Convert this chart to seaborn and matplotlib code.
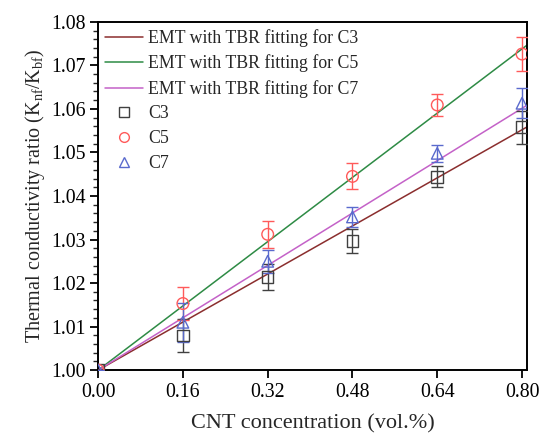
import numpy as np
import pandas as pd
import matplotlib
matplotlib.use("Agg")
import matplotlib.pyplot as plt
import seaborn as sns

# ---- data ----
conc = [0.00, 0.16, 0.32, 0.48, 0.64, 0.80]
c3 = [1.000, 1.0080, 1.0214, 1.0296, 1.0444, 1.0558]
c3_err = [0.0, 0.0038, 0.0030, 0.0028, 0.0024, 0.0038]
c5 = [1.000, 1.0153, 1.0312, 1.0445, 1.0609, 1.0726]
c5_err = [0.0, 0.0038, 0.0031, 0.0030, 0.0025, 0.0038]
c7 = [1.000, 1.0110, 1.0250, 1.0352, 1.0498, 1.0613]
c7_err = [0.0, 0.0045, 0.0027, 0.0023, 0.0020, 0.0035]

fit_x = [0.00, 0.81]
fit_c3 = [1.000, 1.0559]
fit_c5 = [1.000, 1.0747]
fit_c7 = [1.000, 1.0609]

xticks = [0.00, 0.16, 0.32, 0.48, 0.64, 0.80]
yticks = [1.00, 1.01, 1.02, 1.03, 1.04, 1.05, 1.06, 1.07, 1.08]

sns.set_theme(style="ticks")
plt.rcParams['font.family'] = ['Liberation Serif', 'DejaVu Serif']
plt.rcParams['mathtext.fontset'] = 'custom'
plt.rcParams['mathtext.rm'] = 'Liberation Serif'
plt.rcParams['mathtext.it'] = 'Liberation Serif:italic'

fig = plt.figure(figsize=(5.42, 4.36), dpi=100)
ax = fig.add_axes([0.181, 0.151, 0.791, 0.799])

col_l3, col_l5, col_l7 = "#8B2E2E", "#2E8B45", "#C462C8"
col_m3, col_m5, col_m7 = "#404040", "#FF5A5A", "#5A6ACD"

fits = pd.DataFrame({
    "x": fit_x * 3,
    "y": fit_c3 + fit_c5 + fit_c7,
    "s": ["EMT with TBR fitting for C3"] * 2 + ["EMT with TBR fitting for C5"] * 2
         + ["EMT with TBR fitting for C7"] * 2,
})
sns.lineplot(data=fits, x="x", y="y", hue="s",
             palette=[col_l3, col_l5, col_l7], lw=1.1, ax=ax, legend=False)

line_handles = []
for lab, c in zip(["EMT with TBR fitting for C3", "EMT with TBR fitting for C5",
                   "EMT with TBR fitting for C7"], [col_l3, col_l5, col_l7]):
    line_handles.append(plt.Line2D([], [], color=c, lw=1.1, label=lab))

mk_handles = []
for name, y, e, c, m in [("C3", c3, c3_err, col_m3, "s"),
                         ("C5", c5, c5_err, col_m5, "o"),
                         ("C7", c7, c7_err, col_m7, "^")]:
    ax.errorbar(conc, y, yerr=e, fmt="none", ecolor=c, elinewidth=1.0,
                capsize=4, capthick=1.0, zorder=3)
    sns.scatterplot(x=conc, y=y, marker=m, s=70, facecolors="none",
                    edgecolors=c, linewidths=1.0, ax=ax, zorder=4)
    mk_handles.append(plt.Line2D([], [], ls="none", marker=m, markersize=7,
                                 markerfacecolor="none", markeredgecolor=c,
                                 markeredgewidth=1.0, label=name))

ax.set_xlim(0, 0.809)
ax.set_ylim(1.0, 1.08)
ax.set_xticks(xticks)
ax.set_xticklabels([f"{v:.2f}" for v in xticks])
ax.set_yticks(yticks)
ax.set_yticklabels([f"{v:.2f}" for v in yticks])
ax.yaxis.set_minor_locator(matplotlib.ticker.MultipleLocator(0.002))
ax.tick_params(axis="both", which="major", direction="out", length=6, width=1.3,
               labelsize=14.3, colors="black", pad=3)
ax.tick_params(axis="y", which="minor", direction="out", length=3.5, width=1.0)
for sp in ax.spines.values():
    sp.set_linewidth(1.4)
    sp.set_color("black")

ax.set_xlabel("CNT concentration (vol.%)", fontsize=16, labelpad=9)
ax.set_ylabel(r"Thermal conductivity ratio (K$_\mathregular{nf}$/K$_\mathregular{bf}$)",
              fontsize=14.5, labelpad=3)

ax.legend(handles=line_handles + mk_handles, loc="upper left", frameon=False,
          fontsize=12.8, handlelength=2.1, handletextpad=0.3, labelspacing=0.43,
          borderaxespad=0.0, borderpad=0.4, bbox_to_anchor=(0.0, 1.0))

fig.savefig("out.png", dpi=100)
